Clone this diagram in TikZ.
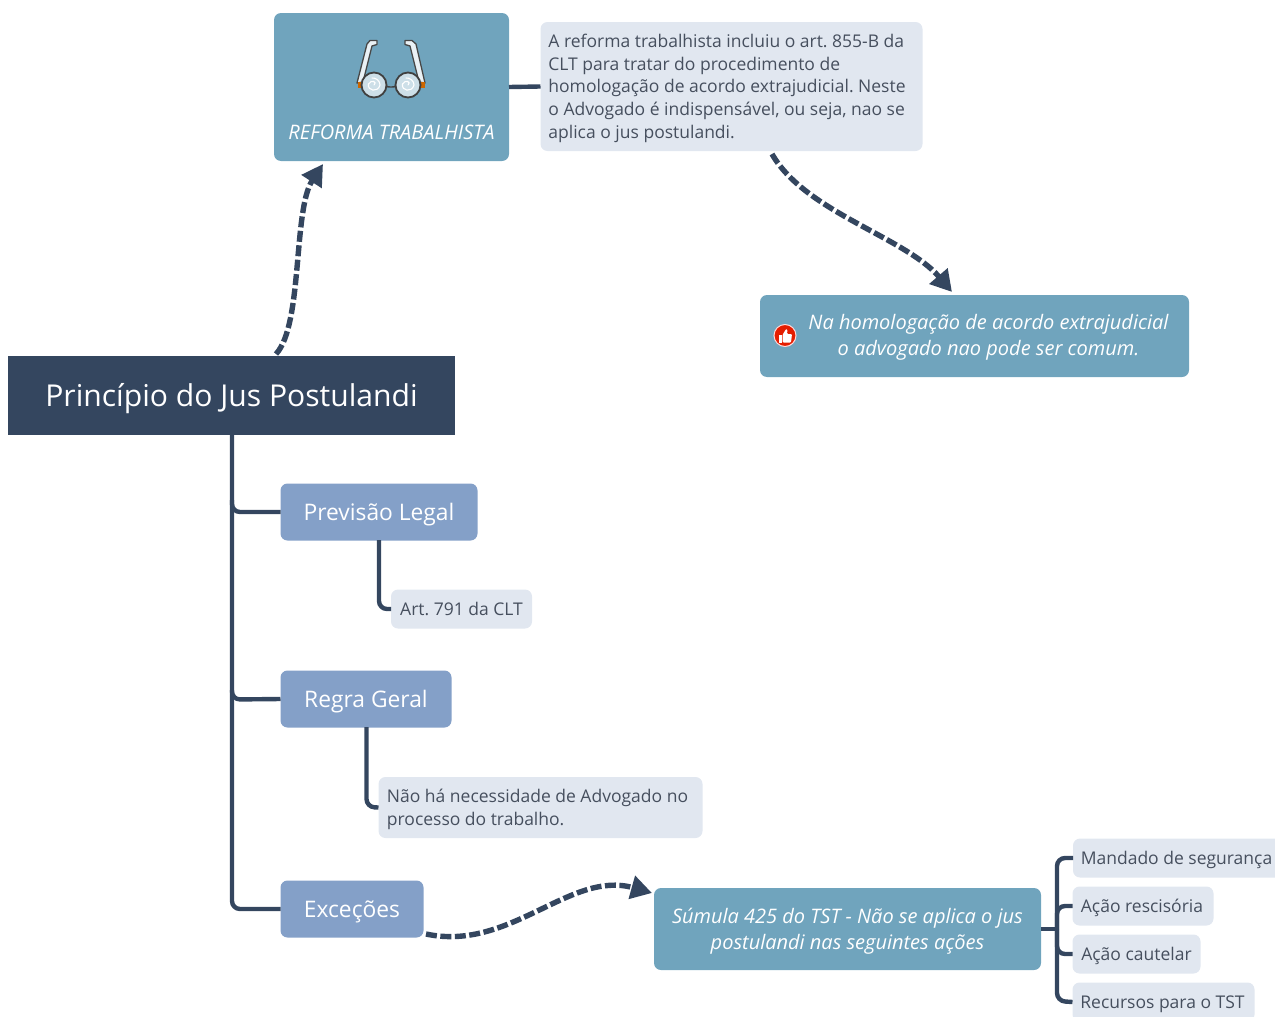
\documentclass[tikz,border=0pt]{standalone}
\usepackage{fontspec}
\setmainfont{Open Sans}
\usetikzlibrary{arrows.meta}
\frenchspacing
\definecolor{navy}{HTML}{34465F}
\definecolor{teal}{HTML}{70A4BD}
\definecolor{peri}{HTML}{84A0C8}
\definecolor{pale}{HTML}{E1E7F0}
\definecolor{ink}{HTML}{464F5E}
\newdimen\dnshift
\newcommand\dn[2][l]{\raisebox{\dnshift}[\height][\depth]{\begin{tabular}{@{}#1@{}}#2\end{tabular}}}
\newcommand\pad[1]{\rule{#1}{0pt}}
\tikzset{
 x=1pt,y=-1pt,
 base/.style={inner sep=0pt,outer sep=0pt,rounded corners=7pt},
 rootbox/.style={base,rounded corners=0pt,fill=navy,text=white,font=\fontsize{30.1}{36}\selectfont\setlength{\dnshift}{-3.8pt}},
 tealbox/.style={base,fill=teal,text=white,align=center,font=\fontsize{20}{26}\selectfont\itshape\setlength{\dnshift}{-1.8pt}},
 peribox/.style={base,fill=peri,text=white,font=\fontsize{22.8}{28}\selectfont\setlength{\dnshift}{-2.8pt}},
 palebox/.style={base,fill=pale,text=ink,font=\fontsize{17.5}{22.7}\selectfont\setlength{\dnshift}{-1.8pt}},
 link/.style={draw=navy,line width=4.4pt,rounded corners=8pt},
 dashlink/.style={draw=navy,line width=5.4pt,dash pattern=on 11pt off 3.5pt,-{Triangle[length=21pt,width=23pt]}},
}
\begin{document}
\begin{tikzpicture}
\useasboundingbox (0,0) rectangle (1275,1017);
\coordinate (d1a) at (276,354);
\coordinate (d1b) at (323,164);
\coordinate (d2a) at (772,154);
\coordinate (d2b) at (952,292);
\coordinate (d3a) at (426,934);
\coordinate (d3b) at (652,893);
% nodes
\node[rootbox,minimum width=447pt,minimum height=79pt] (root) at (231.5,395.5) {\dn{Princípio do Jus Postulandi}};
\node[base,fill=teal,minimum width=235pt,minimum height=148pt] (ref) at (391.5,87) {};
\node[text=white,font=\fontsize{20}{24}\selectfont\itshape,inner sep=0pt] (reft) at (391.5,132.5) {REFORMA TRABALHISTA};
\node[palebox,minimum width=382pt,minimum height=129pt] (refnote) at (731.5,86.5) {\dn{A reforma trabalhista incluiu o art. 855-B da\\CLT para tratar do procedimento de\\homologação de acordo extrajudicial. Neste\\o Advogado é indispensável, ou seja, nao se\\aplica o jus postulandi.}\pad{9pt}};
\node[base,fill=teal,minimum width=429pt,minimum height=82pt] (adv) at (974.5,336) {};
\node[text=white,align=center,font=\fontsize{20}{26}\selectfont\itshape,inner sep=0pt] (advt) at (988.5,337.3) {Na homologação de acordo extrajudicial\\o advogado nao pode ser comum.};
\node[peribox,minimum width=197pt,minimum height=57pt] (prev) at (379,512) {\dn{Previsão Legal}};
\node[palebox,minimum width=141pt,minimum height=39pt] (art) at (461.5,609) {\dn{Art. 791 da CLT}};
\node[peribox,minimum width=171pt,minimum height=57pt] (regra) at (366,699) {\dn{Regra Geral}};
\node[palebox,minimum width=324pt,minimum height=61pt] (naoha) at (540.5,807.5) {\dn{Não há necessidade de Advogado no\\processo do trabalho.}\pad{6pt}};
\node[peribox,minimum width=143pt,minimum height=57pt] (exc) at (352,909) {\dn{Exceções}};
\node[tealbox,minimum width=387pt,minimum height=82pt] (sum) at (847.5,929) {\dn[c]{Súmula 425 do TST - Não se aplica o jus\\postulandi nas seguintes ações}};
\node[palebox,minimum width=210pt,minimum height=39pt] (man) at (1178,858) {\dn{Mandado de segurança}\pad{3pt}};
\node[palebox,minimum width=141pt,minimum height=39pt] (res) at (1143,906) {\dn{Ação rescisória}\pad{2pt}};
\node[palebox,minimum width=128pt,minimum height=39pt] (cau) at (1136.5,954) {\dn{Ação cautelar}};
\node[palebox,minimum width=182pt,minimum height=39pt] (rec) at (1163.5,1002) {\dn{Recursos para o TST}\pad{2pt}};
% connectors
\draw[link,rounded corners=0pt] (ref.east) -- (refnote.west);
\draw[link] (root.south -| 232,0) -- (232,512) -- (prev.west);
\draw[link] (232,500) -- (232,699.5) -- (regra.west);
\draw[link] (232,690) -- (232,909) -- (exc.west);
\draw[link] (379,540) -- (379,609) -- (art.west);
\draw[link] (366.5,727) -- (366.5,807) -- (naoha.west);
\draw[link,rounded corners=0pt] (sum.east) -- (1057,929);
\draw[link] (1057,929) -- (1057,858) -- (man.west);
\draw[link] (1057,929) -- (1057,906) -- (res.west);
\draw[link] (1057,929) -- (1057,954) -- (cau.west);
\draw[link] (1057,929) -- (1057,1001) -- (rec.west);
\draw[dashlink] (d1a) .. controls (303,325) and (293,210) .. (d1b);
\draw[dashlink] (d2a) .. controls (805,212) and (905,237) .. (d2b);
\draw[dashlink] (d3a) .. controls (510,952) and (570,870) .. (d3b);
% glasses icon
\begin{scope}[line join=round,line cap=round]
 \draw[black!72,fill=white!85!teal,line width=1.3pt] (377,40.5) -- (370,40.5) -- (367,44) -- (357,83) -- (363,82) -- (372,46) -- (377,44.5) -- cycle;
 \draw[black!72,fill=white!85!teal,line width=1.3pt] (405,40.5) -- (412,40.5) -- (416,44) -- (425,83) -- (419,82) -- (410,46) -- (405,44.5) -- cycle;
 \fill[orange!80!black] (358,82) rectangle (363,88);
 \fill[orange!80!black] (420,82) rectangle (425,88);
 \draw[black!75,line width=1.4pt] (384,83) .. controls (387,88) and (389,87) .. (391,87) .. controls (393,87) and (395,88) .. (398,83);
 \draw[black!75,fill=white!65!teal,line width=1.8pt] (374,85) circle (12.5);
 \draw[black!75,fill=white!65!teal,line width=1.8pt] (408,85) circle (12.5);
 \draw[white,line width=1.1pt] (374,85) .. controls (378,82) and (371,79) .. (368.5,84) .. controls (367,91) and (378,93) .. (380,85) .. controls (380,81) and (376,77.5) .. (372,78);
 \draw[white,line width=1.1pt] (408,85) .. controls (412,82) and (405,79) .. (402.5,84) .. controls (401,91) and (412,93) .. (414,85) .. controls (414,81) and (410,77.5) .. (406,78);
\end{scope}
% thumb icon
\fill[red!75!orange!90!black,draw=white!85!red,line width=1pt] (785,335.5) circle (11);
\fill[white] (778.5,335) rectangle (781.5,342.5);
\fill[white,rounded corners=1pt] (782.5,335) -- (786,329) -- (787.5,329.5) -- (787,334) -- (792,334) -- (791,342.5) -- (782.5,342.5) -- cycle;
\end{tikzpicture}
\end{document}
